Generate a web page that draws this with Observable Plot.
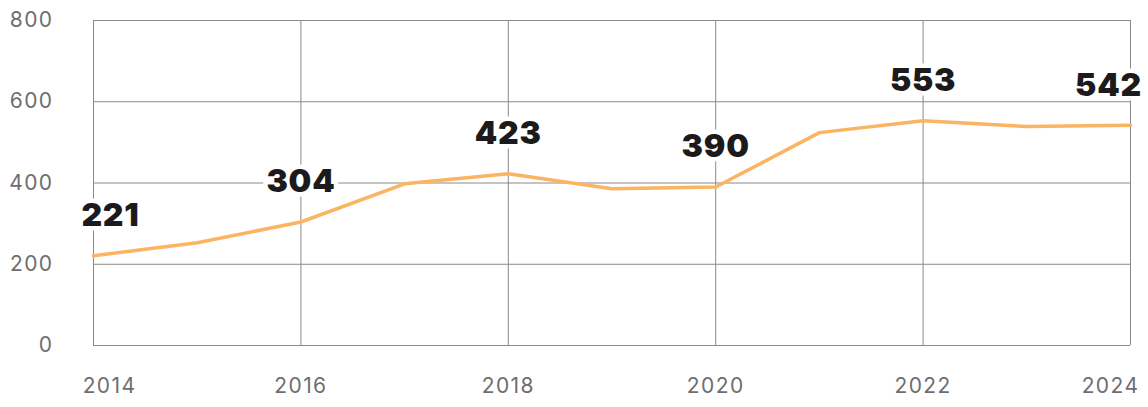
<!DOCTYPE html>
<html>
<head>
<meta charset="utf-8">
<script src="https://cdn.jsdelivr.net/npm/d3@7"></script>
<script src="https://cdn.jsdelivr.net/npm/@observablehq/plot@0.6"></script>
<style>
  html, body { margin: 0; padding: 0; background: #fff; }
  #chart svg { display: block; }
</style>
</head>
<body>
<div id="chart"></div>
<script>
const years = [2014, 2015, 2016, 2017, 2018, 2019, 2020, 2021, 2022, 2023, 2024];
const values = [221, 253, 304, 398, 423, 386, 390, 524, 553, 539, 542];
const labelYears = [2014, 2016, 2018, 2020, 2022, 2024];
const labelValues = [221, 304, 423, 390, 553, 542];
const yTicks = [0, 200, 400, 600, 800];
const xTicks = [2014, 2016, 2018, 2020, 2022, 2024];

const data = years.map((year, i) => ({year, value: values[i]}));
const labels = labelYears.map((year, i) => ({year, value: labelValues[i]}));
const first = labels.slice(0, 1);
const middle = labels.slice(1, -1);
const last = labels.slice(-1);

const gridColor = "#8a8a8a";
const tickColor = "#6e6e6e";
const labelFont = "Inter, 'DejaVu Sans', sans-serif";

const labelOpts = {
  x: "year", y: "value", text: d => String(d.value),
  fontSize: 32, fontWeight: 900, fill: "#1c1a1a",
  stroke: "white", strokeWidth: 9, strokeLinejoin: "miter",
  fontFamily: labelFont, dy: -40
};
const tickOpts = {fontSize: 21, fill: tickColor, fontWeight: 400};

const chart = Plot.plot({
  width: 1148,
  height: 407,
  marginLeft: 93,
  marginRight: 18,
  marginTop: 20,
  marginBottom: 62,
  style: {fontFamily: "Inter, 'Open Sans', sans-serif", background: "white"},
  x: {domain: [2014, 2024], axis: null},
  y: {domain: [0, 800], axis: null},
  marks: [
    Plot.ruleY(yTicks, {stroke: gridColor, strokeWidth: 1}),
    Plot.ruleX(xTicks, {stroke: gridColor, strokeWidth: 1}),
    Plot.text(yTicks, {x: 2014, y: d => d, text: d => String(d), textAnchor: "end", dx: -40, ...tickOpts}),
    Plot.text(xTicks.slice(0, 1), {x: d => d, y: 0, text: d => String(d), dx: 16, dy: 41, ...tickOpts}),
    Plot.text(xTicks.slice(1, -1), {x: d => d, y: 0, text: d => String(d), dx: 0, dy: 41, ...tickOpts}),
    Plot.text(xTicks.slice(-1), {x: d => d, y: 0, text: d => String(d), dx: -20, dy: 41, ...tickOpts}),
    Plot.line(data, {x: "year", y: "value", stroke: "#fbb462", strokeWidth: 3.5}),
    Plot.text(first, {...labelOpts, dx: 17}),
    Plot.text(middle, {...labelOpts}),
    Plot.text(last, {...labelOpts, dx: -22})
  ]
});
d3.select(chart).selectAll('g[font-size="21"]').attr("letter-spacing", "1.4px");
d3.select(chart).selectAll('g[font-size="32"]').attr("letter-spacing", "0.8px");
document.getElementById("chart").appendChild(chart);
</script>
</body>
</html>
